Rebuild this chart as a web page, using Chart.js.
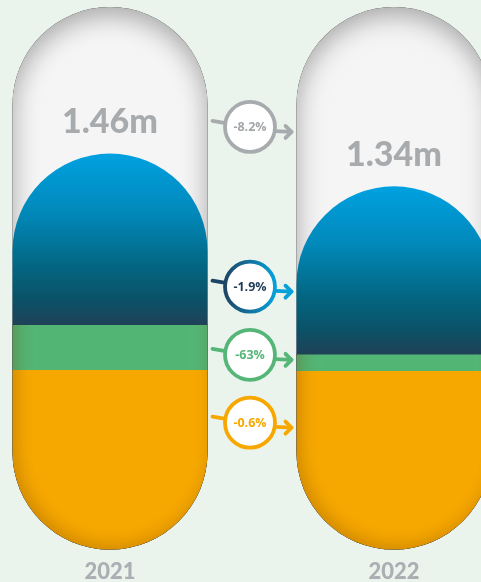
<!DOCTYPE html>
<html>
<head>
<meta charset="utf-8">
<script src="https://cdn.jsdelivr.net/npm/chart.js@4.4.1/dist/chart.umd.min.js"></script>
<style>
  html, body { margin: 0; padding: 0; background: #eaf4ec; overflow: hidden; }
  #wrap { position: relative; width: 481px; height: 582px; overflow: hidden; }
  #chart-box { position: absolute; left: -32px; top: 0; width: 568px; height: 582px; }
</style>
</head>
<body>
<div id="wrap"><div id="chart-box"><canvas id="capsuleChart"></canvas></div></div>
<script>
// data (millions)
const years = ['2021', '2022'];
const orangeValues = [0.664, 0.660];
const greenValues = [0.166, 0.061];
const blueValues = [0.630, 0.618];
const totals = [1.46, 1.34];
const totalLabels = ['1.46m', '1.34m'];
const totalChange = '-8.2%';
const blueChange = '-1.9%';
const greenChange = '-63%';
const orangeChange = '-0.6%';

// layout: badge heights on the value axis, track height
const trackMax = 2.0;
const badgeLevels = { total: 1.558, blue: 0.969, green: 0.718, orange: 0.468 };

const GRAY = '#a8abae';

function pillPath(ctx, left, right, top, bottom, capTop, capBottom) {
  const r = (right - left) / 2;
  const cx = (left + right) / 2;
  ctx.beginPath();
  if (capTop) {
    ctx.moveTo(left, top + r);
    ctx.arc(cx, top + r, r, Math.PI, 0);
  } else {
    ctx.moveTo(left, top);
    ctx.lineTo(right, top);
  }
  if (capBottom) {
    ctx.lineTo(right, bottom - r);
    ctx.arc(cx, bottom - r, r, 0, Math.PI);
  } else {
    ctx.lineTo(right, bottom);
    ctx.lineTo(left, bottom);
  }
  ctx.closePath();
}

function innerShadow(ctx, makePath, color, blur, ox, oy) {
  ctx.save();
  makePath();
  ctx.clip();
  makePath();
  ctx.rect(-2000, -2000, 5000, 5000);
  ctx.shadowColor = color;
  ctx.shadowBlur = blur;
  ctx.shadowOffsetX = ox;
  ctx.shadowOffsetY = oy;
  ctx.fillStyle = '#000';
  ctx.fill('evenodd');
  ctx.restore();
}

function drawBadge(ctx, cx, cy, text, o) {
  ctx.save();
  ctx.lineWidth = 3.8;
  ctx.lineCap = 'round';
  ctx.lineJoin = 'round';
  // stub from the left capsule
  ctx.strokeStyle = o.stub;
  ctx.beginPath();
  ctx.moveTo(o.xFrom, cy - 6);
  ctx.lineTo(cx - 20, cy - 3);
  ctx.stroke();
  // arrow to the right capsule
  ctx.strokeStyle = o.arrow;
  ctx.beginPath();
  ctx.moveTo(cx + 20, cy + 4);
  ctx.lineTo(o.xTo, cy + 5);
  ctx.stroke();
  ctx.beginPath();
  ctx.moveTo(o.xTo - 6, cy - 1);
  ctx.lineTo(o.xTo, cy + 5);
  ctx.lineTo(o.xTo - 6, cy + 11);
  ctx.stroke();
  // circle
  ctx.beginPath();
  ctx.arc(cx, cy, 25, 0, Math.PI * 2);
  ctx.fillStyle = '#ffffff';
  ctx.fill();
  ctx.strokeStyle = o.ring;
  ctx.stroke();
  ctx.fillStyle = o.text;
  ctx.font = 'bold 12.5px "Open Sans"';
  ctx.textAlign = 'center';
  ctx.textBaseline = 'middle';
  ctx.fillText(text, cx, cy + 1);
  ctx.restore();
}

const capsulePlugin = {
  id: 'capsules',
  beforeDatasetsDraw(chart) {
    const ctx = chart.ctx;
    const area = chart.chartArea;
    const yScale = chart.scales.y;
    const mOrange = chart.getDatasetMeta(0).data;
    const mGreen = chart.getDatasetMeta(1).data;
    const mBlue = chart.getDatasetMeta(2).data;

    mOrange.forEach((el, i) => {
      const left = el.x - el.width / 2;
      const right = el.x + el.width / 2;
      const trackTop = yScale.getPixelForValue(trackMax);

      // grey track
      const track = () => pillPath(ctx, left, right, trackTop, area.bottom, true, true);
      track();
      ctx.fillStyle = '#f5f5f5';
      ctx.fill();
      innerShadow(ctx, track, 'rgba(0,0,0,0.32)', 26, 0, 8);

      // orange
      pillPath(ctx, left, right, el.y, el.base, false, true);
      ctx.fillStyle = '#f7a800';
      ctx.fill();

      // green
      const g = mGreen[i];
      pillPath(ctx, left, right, g.y, g.base + 0.5, false, false);
      ctx.fillStyle = '#53b574';
      ctx.fill();

      // blue with gradient
      const b = mBlue[i];
      const grad = ctx.createLinearGradient(0, b.y, 0, b.base);
      grad.addColorStop(0, '#00a1e1');
      grad.addColorStop(0.35, '#0188b9');
      grad.addColorStop(0.65, '#036783');
      grad.addColorStop(0.85, '#0a5268');
      grad.addColorStop(1, '#1f4258');
      pillPath(ctx, left, right, b.y, b.base + 0.5, true, false);
      ctx.fillStyle = grad;
      ctx.fill();

      // soft edge shading on the green and orange part only
      ctx.save();
      ctx.beginPath();
      ctx.rect(left - 5, b.base, right - left + 10, el.base - b.base + 5);
      ctx.clip();
      const stack = () => pillPath(ctx, left, right, b.y, el.base, true, true);
      innerShadow(ctx, stack, 'rgba(110,55,0,0.3)', 18, 4, -4);
      ctx.restore();
    });
    return false;
  },
  afterDraw(chart) {
    const ctx = chart.ctx;
    const yScale = chart.scales.y;
    const mOrange = chart.getDatasetMeta(0).data;
    const a = mOrange[0];
    const b = mOrange[1];

    // total labels
    ctx.save();
    ctx.fillStyle = GRAY;
    ctx.font = '900 34px Lato';
    ctx.textAlign = 'center';
    ctx.textBaseline = 'middle';
    mOrange.forEach((el, i) => {
      ctx.fillText(totalLabels[i], el.x, yScale.getPixelForValue(totals[i]) - 31);
    });
    ctx.restore();

    const cx = (a.x + b.x) / 2 - 2;
    const xFrom = a.x + a.width / 2 + 5;
    const xTo = b.x - b.width / 2 - 5;
    const ringBlue = ctx.createLinearGradient(cx - 25, 0, cx + 25, 0);
    ringBlue.addColorStop(0, '#1d4566');
    ringBlue.addColorStop(1, '#07a0d9');

    drawBadge(ctx, cx, yScale.getPixelForValue(badgeLevels.total), totalChange,
      { ring: GRAY, text: '#a3a6a9', stub: GRAY, arrow: GRAY, xFrom, xTo });
    drawBadge(ctx, cx, yScale.getPixelForValue(badgeLevels.blue), blueChange,
      { ring: ringBlue, text: '#1e3b55', stub: '#1d4566', arrow: '#07a0d9', xFrom, xTo });
    drawBadge(ctx, cx, yScale.getPixelForValue(badgeLevels.green), greenChange,
      { ring: '#55b678', text: '#55b678', stub: '#55b678', arrow: '#55b678', xFrom, xTo });
    drawBadge(ctx, cx, yScale.getPixelForValue(badgeLevels.orange), orangeChange,
      { ring: '#f7a800', text: '#f7a800', stub: '#f7a800', arrow: '#f7a800', xFrom, xTo });
  }
};

const ctx = document.getElementById('capsuleChart').getContext('2d');
new Chart(ctx, {
  type: 'bar',
  data: {
    labels: years,
    datasets: [
      { label: 'orange', data: orangeValues, backgroundColor: '#f7a800', stack: 's' },
      { label: 'green', data: greenValues, backgroundColor: '#53b574', stack: 's' },
      { label: 'blue', data: blueValues, backgroundColor: '#00a2e2', stack: 's' }
    ]
  },
  options: {
    responsive: true,
    maintainAspectRatio: false,
    animation: false,
    barPercentage: 1,
    categoryPercentage: 195 / 284,
    layout: { padding: { top: 7, left: 0, right: 0, bottom: -12 } },
    scales: {
      x: {
        stacked: true,
        grid: { display: false, drawTicks: false },
        border: { display: false },
        ticks: {
          color: '#abaeb2',
          padding: 9,
          font: { family: 'Lato', size: 22, weight: '900' }
        }
      },
      y: {
        stacked: true,
        display: false,
        min: 0,
        max: trackMax
      }
    },
    plugins: {
      legend: { display: false },
      tooltip: { enabled: false }
    }
  },
  plugins: [capsulePlugin]
});
</script>
</body>
</html>
